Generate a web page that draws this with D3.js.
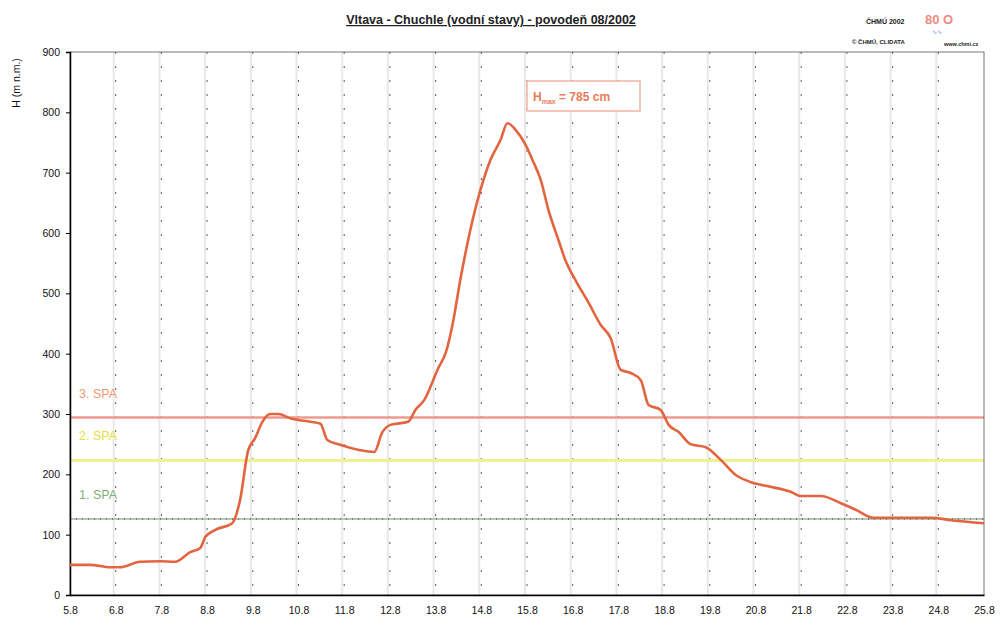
<!DOCTYPE html>
<html>
<head>
<meta charset="utf-8">
<script src="https://cdn.jsdelivr.net/npm/d3@7"></script>
<style>
  html, body { margin: 0; padding: 0; background: #fff; }
  svg { display: block; font-family: "Liberation Sans", Arial, sans-serif; }
</style>
</head>
<body>
<svg id="chart" width="1000" height="630"></svg>
<script>
// ---- data ----
const days = [5.00, 5.44, 5.88, 6.10, 6.53, 6.97, 7.30, 7.63, 7.85, 7.96, 8.18, 8.55, 8.72, 8.90, 9.05, 9.21, 9.38, 9.56, 9.82, 10.26, 10.48, 10.63, 10.91, 11.35, 11.66, 11.83, 12.01, 12.40, 12.56, 12.75, 13.04, 13.24, 13.39, 13.54, 13.76, 13.98, 14.20, 14.42, 14.57, 14.75, 14.97, 15.12, 15.30, 15.47, 15.69, 15.84, 16.06, 16.35, 16.61, 16.83, 17.05, 17.27, 17.49, 17.66, 17.92, 18.10, 18.32, 18.58, 18.91, 19.24, 19.57, 19.90, 20.22, 20.77, 20.99, 21.43, 21.87, 22.20, 22.57, 22.96, 23.40, 23.84, 24.28, 25.00];
const levels = [50, 50, 46, 46, 55, 56, 55, 71, 78, 96, 108, 119, 157, 240, 260, 287, 300, 300, 293, 287, 284, 257, 249, 240, 237, 269, 282, 287, 307, 323, 373, 406, 456, 522, 605, 671, 721, 754, 782, 771, 746, 721, 688, 638, 588, 555, 522, 484, 448, 426, 373, 368, 356, 315, 307, 282, 270, 250, 245, 224, 199, 187, 181, 171, 164, 164, 152, 141, 128, 128, 128, 128, 124, 119];
const spaNames = ["1. SPA", "2. SPA", "3. SPA"];
const spaValues = [126, 223, 294];
const xTickValues = [5, 6, 7, 8, 9, 10, 11, 12, 13, 14, 15, 16, 17, 18, 19, 20, 21, 22, 23, 24, 25];
const xTickLabels = ["5.8", "6.8", "7.8", "8.8", "9.8", "10.8", "11.8", "12.8", "13.8", "14.8", "15.8", "16.8", "17.8", "18.8", "19.8", "20.8", "21.8", "22.8", "23.8", "24.8", "25.8"];
const yTickValues = [0, 100, 200, 300, 400, 500, 600, 700, 800, 900];
const maxLevel = 785;

// ---- layout ----
const svg = d3.select("#chart");
const L = 70, R = 984, T = 52, B = 595;
const x = d3.scaleLinear().domain([5, 25]).range([L, R]);
const y = d3.scaleLinear().domain([0, 900]).range([B, T]);

// vertical grid
const grid = svg.append("g");
grid.selectAll("line.g1").data(xTickValues.slice(1, -1)).join("line")
  .attr("x1", d => x(d) - 2).attr("x2", d => x(d) - 2)
  .attr("y1", T).attr("y2", B)
  .attr("stroke", "#e8e8e8").attr("stroke-width", 2);
grid.selectAll("line.g2").data(xTickValues.slice(1, -1)).join("line")
  .attr("x1", d => x(d)).attr("x2", d => x(d))
  .attr("y1", T).attr("y2", B)
  .attr("stroke", "#333").attr("stroke-width", 1).attr("opacity", 0.8)
  .attr("stroke-dasharray", "2,12");

// SPA lines
const spaColors = ["#b9c6b2", "#f2f28c", "#ec9a8e"];
const spaTextColors = ["#7fae7a", "#e6e040", "#ee9a70"];
const spaWidths = [2, 3, 2.5];
svg.selectAll("line.spa").data(spaValues).join("line")
  .attr("x1", L).attr("x2", R)
  .attr("y1", d => y(d)).attr("y2", d => y(d))
  .attr("stroke", (d, i) => spaColors[i])
  .attr("stroke-width", (d, i) => spaWidths[i]);
svg.append("line")
  .attr("x1", L).attr("x2", R)
  .attr("y1", y(spaValues[0])).attr("y2", y(spaValues[0]))
  .attr("stroke", "#333").attr("stroke-width", 1)
  .attr("stroke-dasharray", "1,5");
svg.selectAll("text.spa").data(spaValues).join("text")
  .attr("x", 79).attr("y", d => y(d) - 20)
  .attr("fill", (d, i) => spaTextColors[i])
  .attr("font-size", 12.5)
  .text((d, i) => spaNames[i]);

// frame
svg.append("rect").attr("x", L).attr("y", T).attr("width", R - L).attr("height", B - T)
  .attr("fill", "none").attr("stroke", "#555").attr("stroke-width", 0.8);

// axes
const yAxis = svg.append("g").attr("transform", `translate(${L},0)`)
  .call(d3.axisLeft(y).tickValues(yTickValues).tickSize(4).tickPadding(6));
yAxis.select(".domain").attr("stroke", "#000").attr("stroke-width", 1.5);
yAxis.selectAll("text").attr("font-size", 10.5).attr("fill", "#111");

const xAxis = svg.append("g").attr("transform", `translate(0,${B})`)
  .call(d3.axisBottom(x).tickValues(xTickValues).tickSize(0).tickPadding(12)
    .tickFormat((d, i) => xTickLabels[i]));
xAxis.select(".domain").attr("stroke", "#000").attr("stroke-width", 1.5);
xAxis.selectAll("text").attr("font-size", 10.5).attr("fill", "#111");

// y label
svg.append("text")
  .attr("transform", "translate(20,83) rotate(-90)")
  .attr("text-anchor", "middle").attr("font-size", 10.5).attr("fill", "#111")
  .text("H (m n.m.)");

// curve
const line = d3.line().x((d, i) => x(days[i])).y(d => y(d)).curve(d3.curveMonotoneX);
svg.append("path").datum(levels)
  .attr("d", line).attr("fill", "none")
  .attr("stroke", "#e2653f").attr("stroke-width", 2.6)
  .attr("stroke-linejoin", "round");

// annotation
svg.append("rect").attr("x", 527).attr("y", 81).attr("width", 113).attr("height", 30)
  .attr("fill", "#fff").attr("stroke", "#f0b4a4").attr("stroke-width", 1.5);
const ann = svg.append("text").attr("x", 533).attr("y", 101)
  .attr("font-size", 12).attr("font-weight", "bold").attr("fill", "#ea7a5a");
ann.append("tspan").text("H");
ann.append("tspan").attr("font-size", 7).attr("dy", 3).text("max");
ann.append("tspan").attr("dy", -3).text(" = " + maxLevel + " cm");

// title
svg.append("text").attr("x", 491).attr("y", 24)
  .attr("text-anchor", "middle").attr("font-size", 12.5).attr("font-weight", "bold")
  .attr("fill", "#222").attr("text-decoration", "underline")
  .text("Vltava - Chuchle (vodní stavy) - povodeň 08/2002");

// logo block
svg.append("text").attr("x", 866).attr("y", 24).attr("font-size", 7).attr("font-weight", "bold")
  .attr("fill", "#222").text("ČHMÚ 2002");
svg.append("text").attr("x", 925).attr("y", 24).attr("font-size", 13).attr("font-weight", "bold")
  .attr("fill", "#f08a80").text("80 O");
svg.append("text").attr("x", 932).attr("y", 34).attr("font-size", 6)
  .attr("fill", "#6a8ad0").text("∿∿");
svg.append("text").attr("x", 852).attr("y", 44).attr("font-size", 6).attr("font-weight", "bold")
  .attr("fill", "#222").text("© ČHMÚ, CLIDATA");
svg.append("text").attr("x", 944).attr("y", 46).attr("font-size", 5.5).attr("font-weight", "bold")
  .attr("fill", "#222").text("www.chmi.cz");
</script>
</body>
</html>
